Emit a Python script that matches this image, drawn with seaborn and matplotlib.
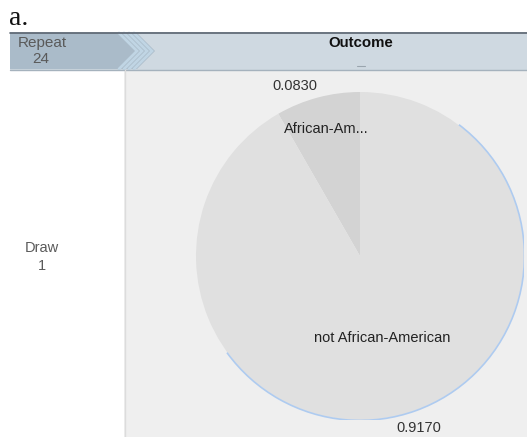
import numpy as np
import seaborn as sns
import matplotlib.pyplot as plt
from matplotlib.patches import Rectangle, Polygon, Arc

sns.set_theme(style="white")
plt.rcParams["font.family"] = ["Liberation Sans", "DejaVu Sans"]

# data
categories = ["African-American", "not African-American"]
short_labels = ["African-Am...", "not African-American"]
proportions = [0.083, 0.917]
repeat_n = 24
draw_n = 1

W, H = 527, 437
fig = plt.figure(figsize=(W / 100, H / 100), dpi=100)

# background / frame in pixel coords
bg = fig.add_axes([0, 0, 1, 1])
bg.set_xlim(0, W)
bg.set_ylim(H, 0)
bg.axis("off")

bg.text(9, 25, "a.", family=["Liberation Serif", "DejaVu Serif"], fontsize=20,
        va="baseline", ha="left", color="#111111")

# header bar
bg.add_patch(Rectangle((10, 32), W - 10, 38, color="#cfd9e1", lw=0))
bg.add_patch(Polygon([(10, 33), (137, 33), (155, 51), (137, 69), (10, 69)],
                     closed=True, color="#aabbc9", lw=0))
for x0 in [119, 124, 129, 134]:
    bg.plot([x0, x0 + 18, x0], [33, 51, 69], color="#c0d5e4", lw=2, solid_joinstyle="miter")
bg.plot([10, W], [32.5, 32.5], color="#5a6470", lw=1.2)
bg.plot([10, W], [69.5, 69.5], color="#a5b2bd", lw=1)

bg.text(18, 43, "Repeat", fontsize=11, color="#5a5a5a", ha="left", va="center")
bg.text(41, 59, str(repeat_n), fontsize=11, color="#5a5a5a", ha="center", va="center")
bg.text(361, 43, "Outcome", fontsize=10.8, fontweight="bold", color="#111111", ha="center", va="center")
bg.plot([357, 365], [66, 66], color="#9aa5ae", lw=0.8)

# plot panel
bg.add_patch(Rectangle((124, 70), W - 124, H - 70, color="#efefef", lw=0))
bg.plot([124.5, 124.5], [70, H], color="#dcdcdc", lw=1)
bg.text(42, 248, "Draw", fontsize=10.5, color="#5a5a5a", ha="center", va="center")
bg.text(42, 266, str(draw_n), fontsize=10.5, color="#5a5a5a", ha="center", va="center")

# pie
cx, cy, r = 360, 256, 164
pax = fig.add_axes([(cx - r) / W, (H - cy - r) / H, 2 * r / W, 2 * r / H])
wedges, _ = pax.pie(proportions, colors=["#d3d3d3", "#e0e0e0"], startangle=90,
                    counterclock=True, radius=1, wedgeprops=dict(lw=0))
pax.set_xlim(-1, 1)
pax.set_ylim(-1, 1)
pax.set_aspect("equal")
pax.axis("off")

inner_r = [0.80, 0.52]
outer_r = [1.07, 1.085]
shift = [-0.12, 0.08]
for w, lab, p, ri, ro, dx in zip(wedges, short_labels, proportions, inner_r, outer_r, shift):
    mid = np.deg2rad((w.theta1 + w.theta2) / 2)
    pax.text(ri * np.cos(mid), ri * np.sin(mid), lab, fontsize=10.5, color="#222222",
             ha="center", va="center", clip_on=False)
    pax.text(ro * np.cos(mid) + dx, ro * np.sin(mid), f"{p:.4f}",
             fontsize=10.5, color="#333333", ha="center", va="center", clip_on=False)

# highlight edge on the selected slice
pax.add_patch(Arc((0, 0), 2.005, 2.005, theta1=-144, theta2=53, color="#aecbf0", lw=1.2))

fig.savefig("out.png", dpi=100)
